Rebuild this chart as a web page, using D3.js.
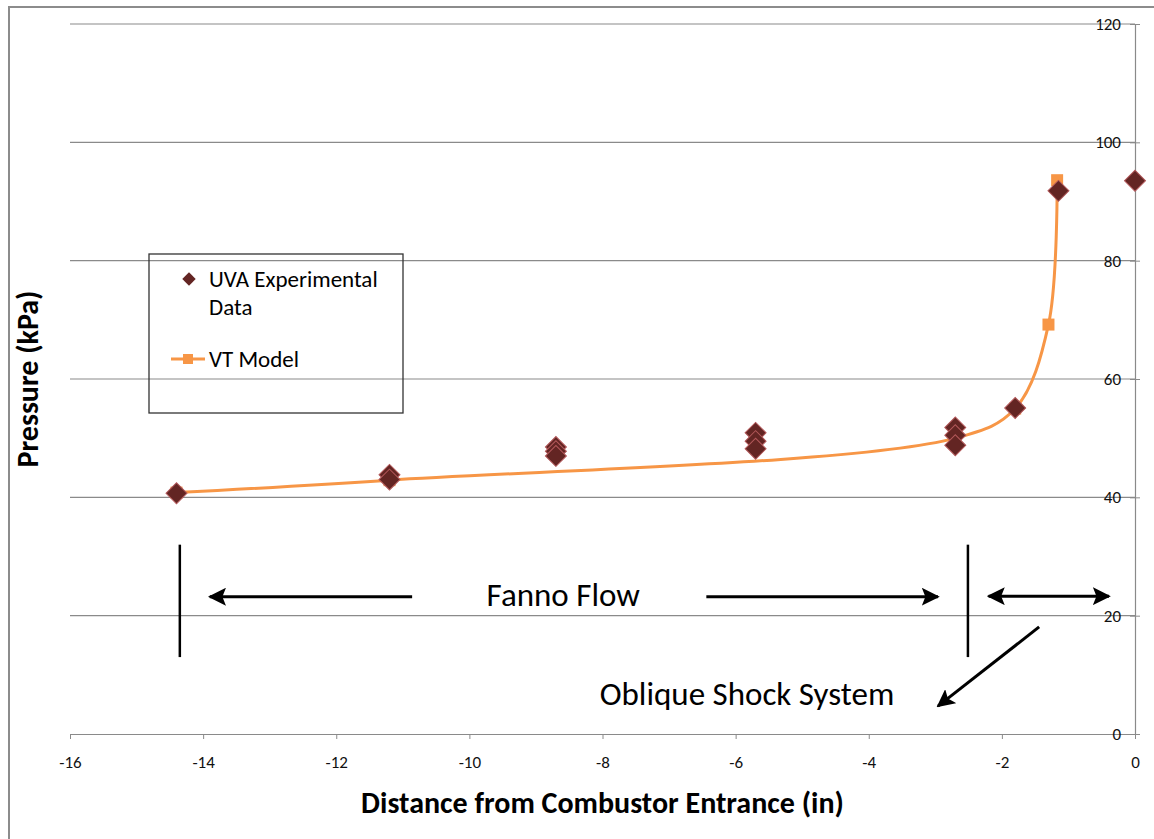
<!DOCTYPE html>
<html>
<head>
<meta charset="utf-8">
<script src="https://cdn.jsdelivr.net/npm/d3@7"></script>
<style>
  body { margin: 0; background: #fff; }
  text { font-family: Carlito, Calibri, Lato, sans-serif; }
</style>
</head>
<body>
<div id="chart-area"></div>
<script>
// UVA experimental data (diamonds)
var uvaX = [-14.4, -11.2, -11.2, -8.7, -8.7, -8.7, -5.7, -5.7, -5.7, -2.7, -2.7, -2.7, -1.8, -1.15, 0];
var uvaP = [40.7, 43.8, 43.0, 48.5, 47.8, 47.0, 50.9, 49.5, 48.2, 51.8, 50.5, 48.8, 55.1, 91.8, 93.5];

// VT model (orange line with squares)
var vtX = [-14.4, -11.2, -2.7, -1.8, -1.3, -1.17];
var vtP = [40.8, 42.9, 50.0, 55.0, 69.2, 93.6];

var xTicks = [-16, -14, -12, -10, -8, -6, -4, -2, 0];
var yTicks = [0, 20, 40, 60, 80, 100, 120];

var width = 1154, height = 839;
var margin = {top: 24, right: 19, bottom: 105, left: 70};
var w = width - margin.left - margin.right;
var h = height - margin.top - margin.bottom;

var svg = d3.select("#chart-area")
    .append("svg")
    .attr("width", width)
    .attr("height", height);

// outer chart frame
svg.append("rect")
    .attr("x", 9).attr("y", 7)
    .attr("width", width + 20).attr("height", height + 20)
    .attr("fill", "none")
    .attr("stroke", "#8c8c8c")
    .attr("stroke-width", 2);

var defs = svg.append("defs");
defs.append("marker")
    .attr("id", "head")
    .attr("viewBox", "0 0 10 10")
    .attr("refX", 9).attr("refY", 5)
    .attr("markerWidth", 6).attr("markerHeight", 6)
    .attr("markerUnits", "strokeWidth")
    .attr("orient", "auto-start-reverse")
    .append("path")
    .attr("d", "M0,0 L10,5 L0,10 L2,5 Z")
    .attr("fill", "#000");

var g = svg.append("g")
    .attr("transform", "translate(" + margin.left + ", " + margin.top + ")");

var x = d3.scaleLinear().domain([-16, 0]).range([0, w]);
var y = d3.scaleLinear().domain([0, 120]).range([h, 0]);

// gridlines
g.append("g")
    .selectAll("line")
    .data(yTicks.filter(d => d > 0))
    .enter().append("line")
    .attr("x1", 0).attr("x2", w)
    .attr("y1", d => y(d)).attr("y2", d => y(d))
    .attr("stroke", "#8a8a8a")
    .attr("stroke-width", 1.2);

// X axis
var bottomAxis = d3.axisBottom(x).tickValues(xTicks).tickSize(5).tickSizeOuter(0)
    .tickFormat(d => String(d));
var xa = g.append("g")
    .attr("transform", "translate(0, " + h + ")")
    .attr("font-size", 17)
    .call(bottomAxis);
xa.select(".domain").attr("stroke", "#8a8a8a").attr("stroke-width", 1.2);
xa.selectAll(".tick line").attr("stroke", "#8a8a8a");
xa.selectAll("text")
    .attr("dy", 0)
    .attr("y", 34)
    .style("font-size", "17px")
    .attr("fill", "#111");

// Y axis on the right (x = 0), labels left of it
var rightAxis = d3.axisLeft(y).tickValues(yTicks).tickSize(5).tickPadding(9).tickSizeOuter(0)
    .tickFormat(d => String(d));
var ya = g.append("g")
    .attr("transform", "translate(" + w + ", 0)")
    .call(rightAxis);
ya.select(".domain").attr("stroke", "#8a8a8a").attr("stroke-width", 1.2);
ya.selectAll(".tick line").attr("stroke", "#8a8a8a").attr("x1", 5).attr("x2", -5);
ya.selectAll("text")
    .style("font-size", "17px")
    .attr("fill", "#111");

// Axis labels
g.append("text")
    .attr("x", w / 2)
    .attr("y", h + 79)
    .attr("font-size", "30px")
    .attr("font-weight", "bold")
    .attr("text-anchor", "middle")
    .style("fill", "black")
    .text("Distance from Combustor Entrance (in)");

g.append("text")
    .attr("transform", "rotate(-90)")
    .attr("x", -(y(60)))
    .attr("y", -32)
    .attr("font-size", "30px")
    .attr("font-weight", "bold")
    .attr("text-anchor", "middle")
    .style("fill", "black")
    .text("Pressure (kPa)");

// VT model line
var vt = vtX.map((d, i) => ({x: d, p: vtP[i]}));
var line = d3.line()
    .x(d => x(d.x))
    .y(d => y(d.p))
    .curve(d3.curveCatmullRom.alpha(0.5));

g.append("path")
    .datum(vt)
    .attr("d", line)
    .attr("fill", "none")
    .attr("stroke", "#F79646")
    .attr("stroke-width", 3);

g.selectAll(".vt-pt")
    .data(vt)
    .enter().append("rect")
    .attr("class", "vt-pt")
    .attr("x", d => x(d.x) - 6)
    .attr("y", d => y(d.p) - 6)
    .attr("width", 12).attr("height", 12)
    .attr("fill", "#F79646");

// UVA diamonds
var uva = uvaX.map((d, i) => ({x: d, p: uvaP[i]}));
var diamond = d3.symbol().type(d3.symbolSquare).size(220);
g.selectAll(".uva-pt")
    .data(uva)
    .enter().append("path")
    .attr("class", "uva-pt")
    .attr("d", diamond)
    .attr("transform", d => "translate(" + x(d.x) + "," + y(d.p) + ") rotate(45)")
    .attr("fill", "#632523")
    .attr("stroke", "#B2585A")
    .attr("stroke-width", 1);

// Annotations (data coordinates)
var vLines = [
    {x: -14.35, y1: 32, y2: 13},
    {x: -2.51, y1: 32, y2: 13}
];
g.selectAll(".vline")
    .data(vLines)
    .enter().append("line")
    .attr("x1", d => x(d.x)).attr("x2", d => x(d.x))
    .attr("y1", d => y(d.y1)).attr("y2", d => y(d.y2))
    .attr("stroke", "#000")
    .attr("stroke-width", 2.5);

var arrows = [
    {x1: -10.86, y1: 23.2, x2: -13.9, y2: 23.2, both: false},
    {x1: -6.44, y1: 23.2, x2: -2.96, y2: 23.2, both: false},
    {x1: -2.2, y1: 23.3, x2: -0.39, y2: 23.3, both: true},
    {x1: -1.44, y1: 18.1, x2: -2.96, y2: 4.7, both: false}
];
g.selectAll(".arrow")
    .data(arrows)
    .enter().append("line")
    .attr("x1", d => x(d.x1)).attr("y1", d => y(d.y1))
    .attr("x2", d => x(d.x2)).attr("y2", d => y(d.y2))
    .attr("stroke", "#000")
    .attr("stroke-width", 3)
    .attr("marker-end", "url(#head)")
    .attr("marker-start", d => d.both ? "url(#head)" : null);

g.append("text")
    .attr("x", x(-8.59)).attr("y", y(21.7))
    .attr("font-size", "33px")
    .attr("text-anchor", "middle")
    .text("Fanno Flow");

g.append("text")
    .attr("x", x(-5.83)).attr("y", y(4.9))
    .attr("font-size", "33px")
    .attr("text-anchor", "middle")
    .text("Oblique Shock System");

// Legend
var lg = svg.append("g").attr("transform", "translate(149, 254)");
lg.append("rect")
    .attr("width", 254).attr("height", 159)
    .attr("fill", "none")
    .attr("stroke", "#333")
    .attr("stroke-width", 1.3);
lg.append("path")
    .attr("d", d3.symbol().type(d3.symbolSquare).size(90))
    .attr("transform", "translate(40,25) rotate(45)")
    .attr("fill", "#632523");
lg.append("text").attr("x", 60).attr("y", 33).attr("font-size", "23px").text("UVA Experimental");
lg.append("text").attr("x", 60).attr("y", 61).attr("font-size", "23px").text("Data");
lg.append("line")
    .attr("x1", 22).attr("x2", 56)
    .attr("y1", 105).attr("y2", 105)
    .attr("stroke", "#F79646").attr("stroke-width", 3);
lg.append("rect")
    .attr("x", 34).attr("y", 100).attr("width", 10).attr("height", 10)
    .attr("fill", "#F79646");
lg.append("text").attr("x", 60).attr("y", 113).attr("font-size", "23px").text("VT Model");
</script>
</body>
</html>
